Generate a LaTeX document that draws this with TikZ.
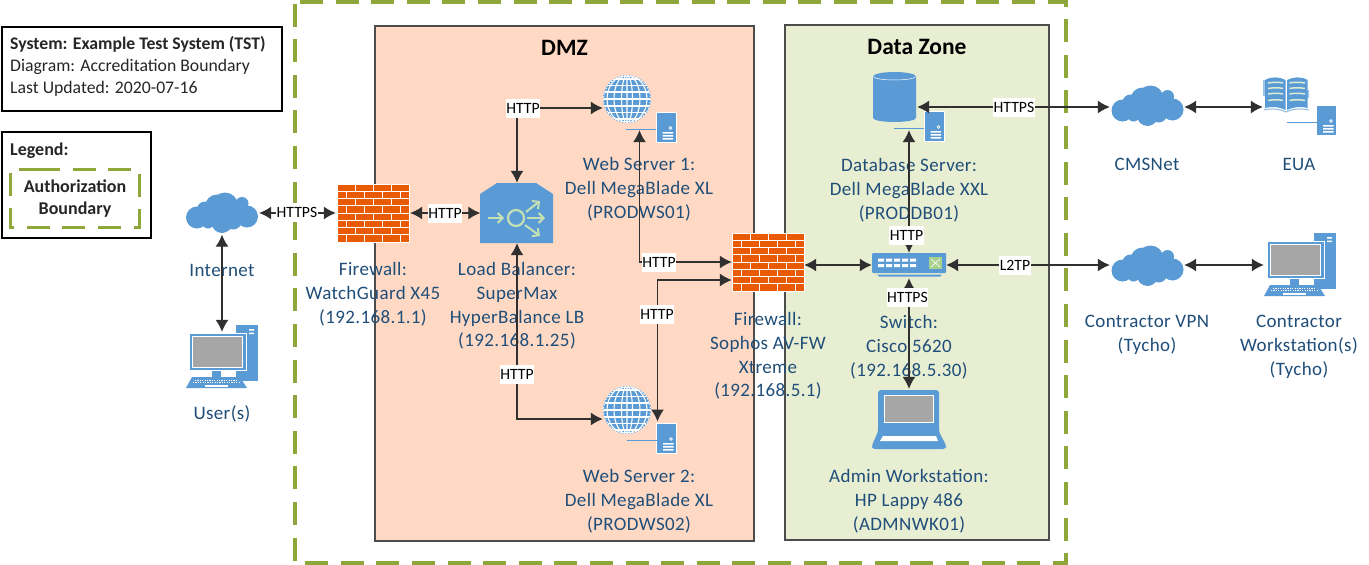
\documentclass[tikz,border=0pt]{standalone}
\usepackage{fontspec}
\setmainfont{Carlito}
\newfontfamily\labfont[LetterSpace=2.0]{Carlito}
\usetikzlibrary{arrows.meta}
\definecolor{iconblue}{HTML}{5B9BD5}
\definecolor{brick}{HTML}{E85A04}
\definecolor{boundary}{HTML}{8FA63A}
\definecolor{dmzfill}{HTML}{FFD9C4}
\definecolor{dzfill}{HTML}{E8EED2}
\definecolor{labelblue}{HTML}{1F4E79}
\definecolor{iconlight}{HTML}{C5E0B4}
\definecolor{sqgreen}{HTML}{A9D18E}
\definecolor{linecol}{HTML}{303030}
\tikzset{
  x=1pt,y=-1pt,
  lab/.style={text=labelblue,font=\labfont\fontsize{19}{23.8}\selectfont,align=center,inner sep=0pt},
  conn/.style={draw=linecol,line width=1.25pt,{Latex[length=12pt,width=13pt]}-{Latex[length=12pt,width=13pt]}},
  connlab/.style={fill=white,font=\fontsize{15.7}{18}\selectfont,inner xsep=0.5pt,inner ysep=1pt,minimum height=19pt,text=black},
  zone/.style={draw=black!70,line width=1.3pt},
  bdash/.style={draw=boundary,line width=3.6pt,dash pattern=on 23pt off 12.6pt},
  devbox/.style 2 args={inner sep=0pt,minimum width=#1,minimum height=#2},
  cloudp/.pic={
    \fill[iconblue] (-25,5) circle (11) (-17,-3) circle (8) (-5,-6) circle (12) (3,-7) circle (13)
      (20,-9) circle (6.5) (25,4) circle (11) (0,10) circle (10.5) (11,8) circle (9)
      (-14,10) circle (6) (14,0) circle (10) (-10,4) circle (10);
  },
  fwp/.pic={
    \fill[brick] (-36,-29) rectangle (36,29);
    \foreach \r in {1,...,7} \draw[white,line width=1pt] (-36,-29+\r*7.25) -- (36,-29+\r*7.25);
    \foreach \r in {0,2,4,6} \foreach \c in {-18,0,18}
      \draw[white,line width=1pt] (\c,-29+\r*7.25) -- ++(0,7.25);
    \foreach \r in {1,3,5,7} \foreach \c in {-27,-9,9,27}
      \draw[white,line width=1pt] (\c,-29+\r*7.25) -- ++(0,7.25);
    \draw[white,line width=.6pt] (-36,-29) rectangle (36,29);
  },
  serverp/.pic={
    \fill[iconblue] (0,0) rectangle (20,30);
    \draw[white,line width=.5pt] (0,0) rectangle (20,30);
    \draw[white,line width=.7pt] (14.5,16) circle (1.3);
    \fill[white] (6.5,20) rectangle (17,21.5) (6.5,23) rectangle (17,24.5) (6.5,26) rectangle (17,27.5);
    \draw[iconblue,line width=.8pt] (-30,17.5) -- (0,17.5);
  },
  globep/.pic={
    \fill[iconblue] (0,0) circle (24);
    \begin{scope}
      \clip (0,0) circle (23.5);
      \draw[white,line width=1.1pt] (0,0) ellipse (5.5 and 24) (0,0) ellipse (13 and 24) (0,0) ellipse (20 and 24) (0,-25) -- (0,25);
      \foreach \y in {-20,-13.5,-7,0,7,13.5,20} \draw[white,line width=1.1pt] (-25,\y) -- (25,\y);
    \end{scope}
    \draw[white,line width=1pt,dash pattern=on 1.5pt off 1.5pt] (0,0) circle (23.5);
  },
  compp/.pic={% origin: left edge of keyboard, top of the tower
    \fill[iconblue] (50,0) rectangle (72,56);
    \fill[white] (63,4) rectangle (68,5.5) (63,7.5) rectangle (68,9);
    \fill[iconblue] (26,46) rectangle (35,52);
    \fill[iconblue] (3,8) rectangle (60,45);
    \draw[white,line width=.7pt] (3,8) rectangle (60,45);
    \fill[white] (6,11) rectangle (57,43);
    \fill[black!35] (7,12) rectangle (56,42);
    \fill[iconblue] (6,52) -- (54,52) -- (61,63) -- (0,63) -- cycle;
    \draw[white,line width=1pt,dash pattern=on 1.2pt off 1.2pt] (9,55) -- (51,55) (7,57.5) -- (53,57.5);
    \fill[white] (19,60) rectangle (42,61.5);
  },
}
\begin{document}
\begin{tikzpicture}
\useasboundingbox (0,0) rectangle (1369,565);
\fill[white] (0,0) rectangle (1369,565);
% zones
\draw[zone,fill=dmzfill] (375,26) rectangle (754,541);
\draw[zone,fill=dzfill] (785,25) rectangle (1049,540);
\draw[bdash] (300,2) -- (1066,2) -- (1066,563) -- (295,563) -- (295,3);
% title boxes
\draw[black,line width=1.1pt,fill=white] (2,27) rectangle (282,111);
\node[anchor=north west,inner sep=0pt,align=left,font=\fontsize{17.7}{21.9}\selectfont,text=black!85] (info) at (10,36.5)
  {\textbf{System: Example Test System (TST)}\\Diagram: Accreditation Boundary\\Last Updated: 2020-07-16};
\draw[black,line width=1.1pt,fill=white] (2,132) rectangle (151,238);
\node[anchor=west,inner sep=0pt,font=\fontsize{18}{21}\bfseries\selectfont,text=black!85] (legend) at (10,150.5) {Legend:};
\draw[boundary,line width=3pt,dash pattern=on 23pt off 12.6pt] (37,169) -- (139,169) -- (139,227) -- (10,227) -- (10,169) -- (37,169);
\node[align=center,inner sep=0pt,font=\fontsize{18}{21.4}\bfseries\selectfont,text=black!85] (auth) at (75,198.5) {Authorization\\Boundary};
% titles
\node[font=\fontsize{23.5}{27}\bfseries\selectfont,inner sep=0pt] (dmz) at (564.5,48) {DMZ};
\node[font=\fontsize{23.5}{27}\bfseries\selectfont,inner sep=0pt] (dz) at (917,47) {Data Zone};
% device labels
\node[lab] (tinternet) at (222,270) {Internet};
\node[lab] (tuser) at (222,414) {User(s)};
\node[lab] (tfw1) at (373,294) {Firewall:\\WatchGuard X45\\(192.168.1.1)};
\node[lab] (tlb) at (517,306) {Load Balancer:\\SuperMax\\HyperBalance LB\\(192.168.1.25)};
\node[lab] (tws1) at (639,189) {Web Server 1:\\Dell MegaBlade XL\\(PRODWS01)};
\node[lab] (tws2) at (639,501) {Web Server 2:\\Dell MegaBlade XL\\(PRODWS02)};
\node[lab] (tfw2) at (768,356) {Firewall:\\Sophos AV-FW\\Xtreme\\(192.168.5.1)};
\node[lab] (tdb) at (909,190) {Database Server:\\Dell MegaBlade XXL\\(PRODDB01)};
\node[lab] (tsw) at (909,347) {Switch:\\Cisco 5620\\(192.168.5.30)};
\node[lab] (tadm) at (909,501) {Admin Workstation:\\HP Lappy 486\\(ADMNWK01)};
\node[lab] (tcms) at (1147,164) {CMSNet};
\node[lab] (teua) at (1299,164) {EUA};
\node[lab] (tvpn) at (1147,335) {Contractor VPN\\(Tycho)};
\node[lab] (tcw) at (1299,347) {Contractor\\Workstation(s)\\(Tycho)};
% icons
\pic at (222,212.5) {cloudp};
\pic at (1147.5,105.5) {cloudp};
\pic at (1147.5,265.5) {cloudp};
\pic at (373,213) {fwp};
\pic at (768,262) {fwp};
\pic at (186,325) {compp};
\pic at (1264,233) {compp};
% load balancer
\fill[iconblue] (480,194) -- (497,183) -- (536,183) -- (553,194) -- (553,243) -- (480,243) -- cycle;
\begin{scope}[draw=iconlight,line width=2pt,-{Straight Barb[length=5pt,width=10pt]}]
  \draw (488,218) -- (504,218);
  \draw (527,218) -- (545,218);
  \draw (526,212) -- (540,201);
  \draw (525,225) -- (540,236);
\end{scope}
\draw[iconlight,line width=2.2pt,fill=iconblue] (516,218) circle (8);
% web servers
\pic at (627,99) {globep};
\pic at (656,112) {serverp};
\pic at (627,410) {globep};
\pic at (656.5,423) {serverp};
% database
\fill[iconblue] (873,76.5) -- (873,118) arc[start angle=180,end angle=0,x radius=21.5,y radius=4] -- (916,76.5) -- cycle;
\fill[iconblue] (894.5,76.5) ellipse (21.5 and 4.5);
\draw[white,line width=.5pt] (873.5,76.5) arc[start angle=180,end angle=0,x radius=21,y radius=3.5];
\pic at (924,111) {serverp};
% switch
\fill[iconblue,rounded corners=1pt] (872,253) rectangle (946,273);
\fill[iconblue] (877,274.5) -- (942,274.5) -- (940,276.5) -- (879,276.5) -- cycle;
\foreach \px in {0,1,2,3,4} \fill[white] (878+\px*8,258.5) rectangle ++(6,3) (878+\px*8,264) rectangle ++(6,3);
\fill[sqgreen] (929,257) rectangle (942,269);
\draw[white,line width=.6pt] (931,259) -- (940,267) (931,267) -- (940,259);
% laptop
\fill[iconblue,rounded corners=3pt] (878,390) -- (939,390) -- (939,432) -- (946,445) -- (946,449) -- (872,449) -- (872,445) -- (878,432) -- cycle;
\fill[white] (884,395) rectangle (934,423);
\fill[black!35] (885,396) rectangle (933,422);
\fill[white] (883,436) -- (936,436) -- (938,441) -- (880,441) -- cycle;
% book
\begin{scope}
  \fill[iconblue!60] (1263,80) rectangle (1266,96) (1306,90) rectangle (1309,98);
  \fill[iconblue] (1265,80) .. controls (1272,76) and (1280,77) .. (1285.5,80) -- (1285.5,110) .. controls (1280,107) and (1272,106) .. (1265,108) -- cycle;
  \fill[iconblue] (1287,80) .. controls (1293,77) and (1301,76) .. (1307.5,80) -- (1307.5,108) .. controls (1301,106) and (1293,107) .. (1287,110) -- cycle;
  \foreach \by in {83,88.5,94,100.5} {
    \draw[iconlight!60!white,line width=1.5pt] (1268,\by) .. controls (1274,\by-1) and (1279,\by-1) .. (1283,\by);
    \draw[iconlight!60!white,line width=1.5pt] (1289.5,\by) .. controls (1294,\by-1) and (1300,\by-1) .. (1305,\by);
  }
  \draw[iconblue!70,line width=1pt] (1264,110) .. controls (1272,108) and (1280,109) .. (1286,112) .. controls (1292,109) and (1300,108) .. (1309,110);
\end{scope}
\pic at (1316.5,105) {serverp};
% device nodes the connectors attach to
\node[devbox={74pt}{43pt}] (cloud1) at (222,213) {};
\node[devbox={72pt}{56pt}] (user) at (222,360) {};
\node[devbox={74pt}{58pt}] (fw1) at (373,213) {};
\node[devbox={73pt}{60pt}] (lb) at (517,213) {};
\node[devbox={73pt}{44pt}] (web1) at (639.5,108) {};
\node[devbox={74pt}{60pt}] (web2) at (640,419) {};
\node[devbox={72pt}{58pt}] (fw2) at (768,262) {};
\node[devbox={44pt}{46pt}] (db) at (895,107) {};
\node[devbox={74pt}{24pt}] (sw) at (909,265) {};
\node[devbox={74pt}{60pt}] (laptop) at (909,419) {};
\node[devbox={74pt}{44pt}] (cms) at (1147,107) {};
\node[devbox={74pt}{44pt}] (vpn) at (1147,265) {};
\node[devbox={72pt}{44pt}] (eua) at (1299,107) {};
\node[devbox={72pt}{44pt}] (cw) at (1300,265) {};
\coordinate (fw2low) at ([yshift=-18pt]fw2.west);
\coordinate (ws2top) at (657.5,421.5);
% connectors
\draw[conn] (cloud1.east) -- (fw1.west);
\draw[conn] (fw1.east) -- (lb.west);
\draw[conn] (cloud1.south) -- (user.north);
\draw[conn] (web1.west) -| (lb.north);
\draw[conn] (lb.south) |- (web2.west);
\draw[conn] (web1.south) |- (fw2.west);
\draw[conn] (fw2low) -| (ws2top);
\draw[conn] (sw.west -| fw2.east) -- (sw.west);
\draw[conn] (sw.north |- db.south) -- (sw.north);
\draw[conn] ([yshift=-1pt]sw.south) -- (laptop.north);
\draw[conn] (db.east) -- (cms.west);
\draw[conn] (sw.east) -- (vpn.west);
\draw[conn] (cms.east) -- (eua.west);
\draw[conn] (vpn.east) -- (cw.west);
% connector labels
\node[connlab] (l1) at (297,212.5) {HTTPS};
\node[connlab] (l2) at (445,213) {HTTP};
\node[connlab] (l3) at (523,108) {HTTP};
\node[connlab] (l4) at (517,374) {HTTP};
\node[connlab] (l5) at (659,262) {HTTP};
\node[connlab] (l6) at (657,314) {HTTP};
\node[connlab] (l7) at (906.5,235) {HTTP};
\node[connlab] (l8) at (907.5,297) {HTTPS};
\node[connlab] (l9) at (1014,107) {HTTPS};
\node[connlab] (l10) at (1015,265) {L2TP};
\end{tikzpicture}
\end{document}
